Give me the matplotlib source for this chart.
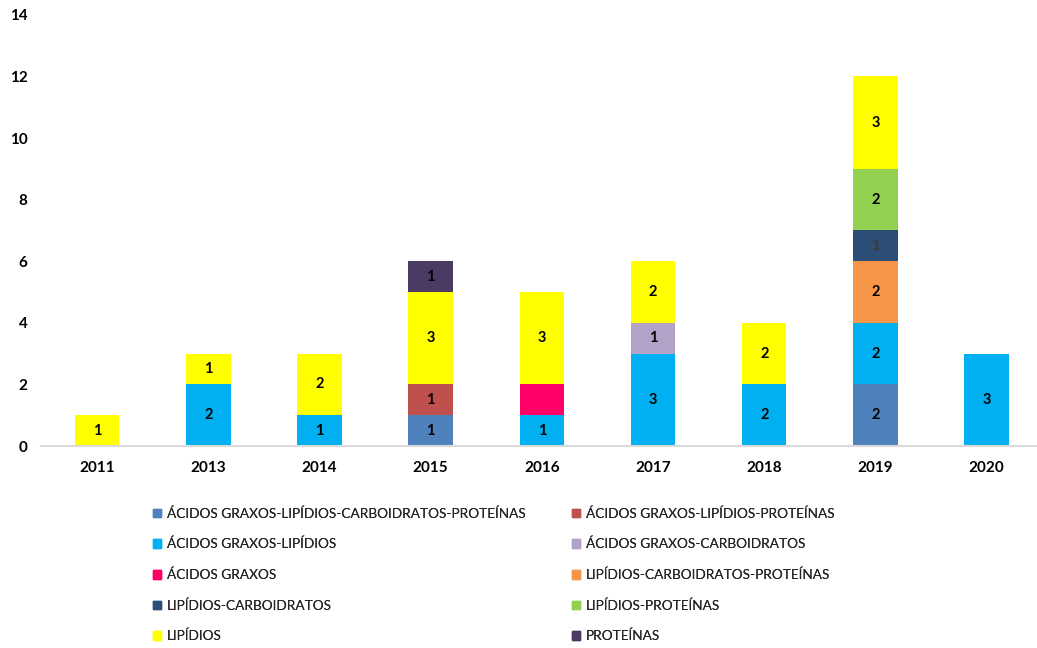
import numpy as np
import matplotlib
matplotlib.use("Agg")
import matplotlib.pyplot as plt
from matplotlib.patches import Patch

years = ["2011", "2013", "2014", "2015", "2016", "2017", "2018", "2019", "2020"]

series = [
    "ÁCIDOS GRAXOS-LIPÍDIOS-CARBOIDRATOS-PROTEÍNAS",
    "ÁCIDOS GRAXOS-LIPÍDIOS-PROTEÍNAS",
    "ÁCIDOS GRAXOS-LIPÍDIOS",
    "ÁCIDOS GRAXOS-CARBOIDRATOS",
    "ÁCIDOS GRAXOS",
    "LIPÍDIOS-CARBOIDRATOS-PROTEÍNAS",
    "LIPÍDIOS-CARBOIDRATOS",
    "LIPÍDIOS-PROTEÍNAS",
    "LIPÍDIOS",
    "PROTEÍNAS",
]

#                     2011 2013 2014 2015 2016 2017 2018 2019 2020
ag_lip_carb_prot = [0, 0, 0, 1, 0, 0, 0, 2, 0]
ag_lip_prot      = [0, 0, 0, 1, 0, 0, 0, 0, 0]
ag_lip           = [0, 2, 1, 0, 1, 3, 2, 2, 3]
ag_carb          = [0, 0, 0, 0, 0, 1, 0, 0, 0]
ag               = [0, 0, 0, 0, 1, 0, 0, 0, 0]
lip_carb_prot    = [0, 0, 0, 0, 0, 0, 0, 2, 0]
lip_carb         = [0, 0, 0, 0, 0, 0, 0, 1, 0]
lip_prot         = [0, 0, 0, 0, 0, 0, 0, 2, 0]
lip              = [1, 1, 2, 3, 3, 2, 2, 3, 0]
prot             = [0, 0, 0, 1, 0, 0, 0, 0, 0]

values = [ag_lip_carb_prot, ag_lip_prot, ag_lip, ag_carb, ag,
          lip_carb_prot, lip_carb, lip_prot, lip, prot]

colors = ["#4F81BD", "#C0504D", "#00B0F0", "#B3A2C7", "#FF0066",
          "#F79646", "#2C4D75", "#92D050", "#FFFF00", "#4B3A63"]

# segments drawn without a number on them
no_label = {(4, 4)}

plt.rcParams["font.family"] = ["Lato", "DejaVu Sans"]

fig = plt.figure(figsize=(10.37, 6.48), dpi=100)
ax = fig.add_axes([0.04, 0.3117, 0.965, 0.6653])

x = np.arange(len(years))
bottom = np.zeros(len(years))
for i, (name, vals, col) in enumerate(zip(series, values, colors)):
    vals = np.array(vals, dtype=float)
    bars = ax.bar(x, vals, 0.4, bottom=bottom, color=col, label=name)
    for j, (b, v) in enumerate(zip(bars, vals)):
        if v == 0 or (i, j) in no_label:
            continue
        tc = "#3a3a3a" if col == "#2C4D75" else "black"
        ax.text(b.get_x() + b.get_width() / 2, bottom[j] + v / 2, str(int(v)),
                ha="center", va="center", fontsize=10.5, fontweight="bold", color=tc)
    bottom += vals

ax.set_xlim(-0.5, len(years) - 0.5)
ax.set_ylim(0, 14)
ax.set_yticks(range(0, 15, 2))
ax.set_xticks(x)
ax.set_xticklabels(years)
for lbl in ax.get_xticklabels() + ax.get_yticklabels():
    lbl.set_fontweight("bold")
    lbl.set_fontsize(11)
ax.tick_params(axis="both", length=0)
ax.tick_params(axis="x", pad=11)
ax.tick_params(axis="y", pad=10)
for s in ["top", "right", "left"]:
    ax.spines[s].set_visible(False)
ax.spines["bottom"].set_color("#D9D9D9")
ax.spines["bottom"].set_linewidth(1.5)

# legend in two columns, one legend box per column
handles = [Patch(color=c) for c in colors]
for col_idx, xa in [(0, 0.1475), (1, 0.5516)]:
    idx = list(range(col_idx, len(series), 2))
    leg = fig.legend([handles[k] for k in idx], [series[k] for k in idx],
                     loc="upper left", bbox_to_anchor=(xa, 0.217),
                     frameon=False, fontsize=9.8, handlelength=0.6, handleheight=0.6,
                     handletextpad=0.4, labelspacing=1.33,
                     borderaxespad=0, borderpad=0)
    for t in leg.get_texts():
        t.set_color("#262626")
    fig.add_artist(leg)

fig.savefig("out.png", dpi=100)
